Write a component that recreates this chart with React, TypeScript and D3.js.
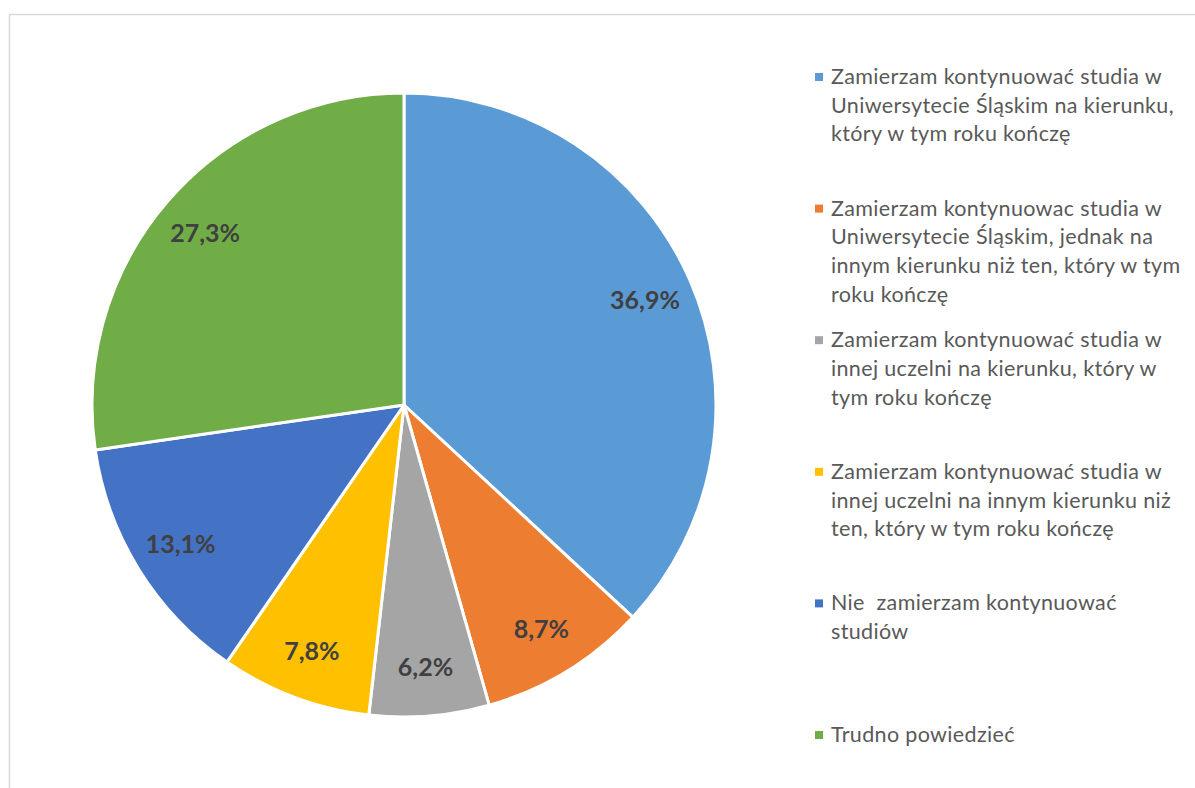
import React from "react";
import * as d3 from "d3";

const categories = [
  "Zamierzam kontynuować studia w Uniwersytecie Śląskim na kierunku, który w tym roku kończę",
  "Zamierzam kontynuowac studia w Uniwersytecie Śląskim, jednak na innym kierunku niż ten, który w tym roku kończę",
  "Zamierzam kontynuować studia w innej uczelni na kierunku, który w tym roku kończę",
  "Zamierzam kontynuować studia w innej uczelni na innym kierunku niż ten, który w tym roku kończę",
  "Nie  zamierzam kontynuować studiów",
  "Trudno powiedzieć",
];
const legendLines = [
  ["Zamierzam kontynuować studia w", "Uniwersytecie Śląskim na kierunku,", "który w tym roku kończę"],
  ["Zamierzam kontynuowac studia w", "Uniwersytecie Śląskim, jednak na", "innym kierunku niż ten, który w tym", "roku kończę"],
  ["Zamierzam kontynuować studia w", "innej uczelni na kierunku, który w", "tym roku kończę"],
  ["Zamierzam kontynuować studia w", "innej uczelni na innym kierunku niż", "ten, który w tym roku kończę"],
  ["Nie  zamierzam kontynuować", "studiów"],
  ["Trudno powiedzieć"],
];
const values = [36.9, 8.7, 6.2, 7.8, 13.1, 27.3];
const labels = ["36,9%", "8,7%", "6,2%", "7,8%", "13,1%", "27,3%"];
const colors = ["#5B9BD5", "#ED7D31", "#A5A5A5", "#FFC000", "#4472C4", "#70AD47"];

export default function App() {
  const W = 1195, H = 788;
  const cx = 404, cy = 405, R = 312;
  const pie = d3.pie<number>().sort(null).value((d) => d);
  const arcs = pie(values);
  const arc = d3.arc<d3.PieArcDatum<number>>().innerRadius(0).outerRadius(R);
  const labelArc = d3.arc<d3.PieArcDatum<number>>().innerRadius(263 * 2 - R).outerRadius(R);
  const font = "Lato, 'Open Sans', sans-serif";
  const legendY = d3.scaleLinear().domain([0, 5]).range([77, 735]);
  const lineH = 28.7;
  return (
    <svg width={W} height={H} style={{ position: "absolute", left: 0, top: 0 }}>
      <rect x={0} y={0} width={W} height={H} fill="#fff" />
      <rect x={9.5} y={14.5} width={W + 20} height={H + 20} fill="none" stroke="#d9d9d9" strokeWidth={1.5} />
      <g transform={`translate(${cx},${cy})`}>
        {arcs.map((a, i) => (
          <path key={i} d={arc(a) || ""} fill={colors[i]} stroke="#fff" strokeWidth={3} strokeLinejoin="round" />
        ))}
        {arcs.map((a, i) => {
          const [x, y] = labelArc.centroid(a);
          return (
            <text key={i} x={x} y={y} dy="0.35em" textAnchor="middle" fontFamily={font} fontWeight="bold" fontSize={25} fill="#404040">
              {labels[i]}
            </text>
          );
        })}
      </g>
      <g>
        {legendLines.map((lines, i) => {
          const y0 = legendY(i);
          return (
            <g key={i}>
              <title>{categories[i]}</title>
              <rect x={815} y={y0 - 4} width={8} height={8} fill={colors[i]} />
              {lines.map((ln, j) => (
                <text key={j} x={831} y={y0 + j * lineH + 7} fontFamily={font} fontSize={21.5} letterSpacing={0.35} fill="#595959" style={{ whiteSpace: "pre" }}>
                  {ln}
                </text>
              ))}
            </g>
          );
        })}
      </g>
    </svg>
  );
}
